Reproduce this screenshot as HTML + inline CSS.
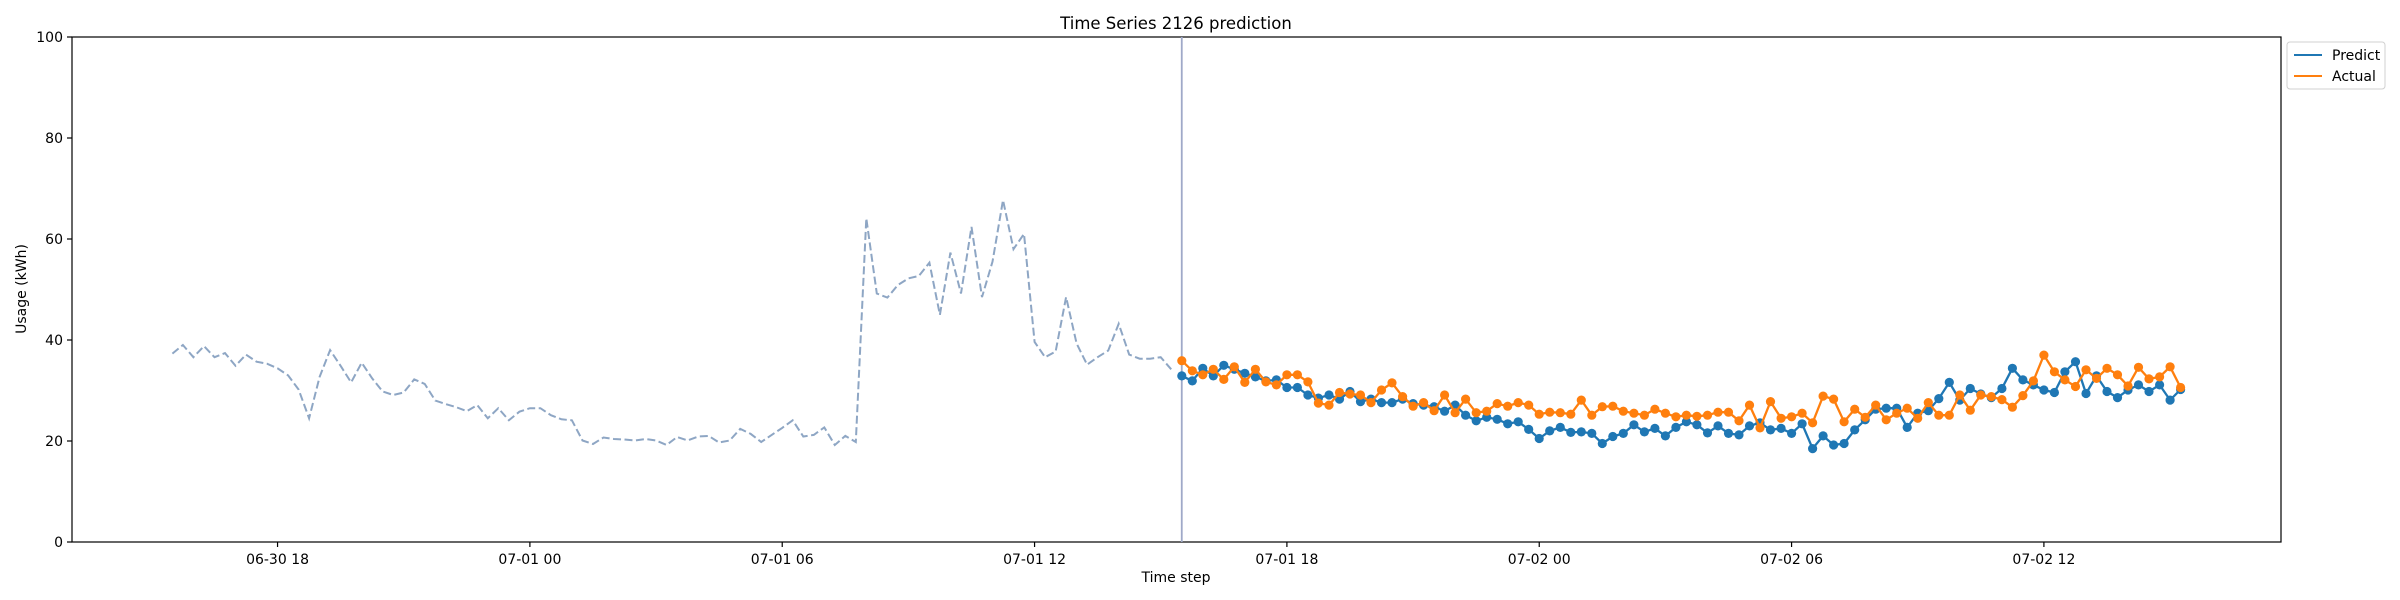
<!DOCTYPE html>
<html><head><meta charset="utf-8"><style>
html,body{margin:0;padding:0;background:#fff;}
svg{display:block;font-family:"DejaVu Sans","Liberation Sans",sans-serif;}
</style></head><body>
<svg id="chart" width="2400" height="600" viewBox="0 0 2400 600" xmlns="http://www.w3.org/2000/svg">
<rect x="0" y="0" width="2400" height="600" fill="#fff"/>
<text x="1176" y="29" font-size="16.5" text-anchor="middle">Time Series 2126 prediction</text>
<g id="plot"></g>
<text x="1176" y="582" font-size="14" text-anchor="middle">Time step</text>
<text x="26" y="289" font-size="14" text-anchor="middle" transform="rotate(-90 26 289)">Usage (kWh)</text>
<g>
<rect x="2287" y="42" width="98" height="47" rx="3" fill="#fff" stroke="#d0d0d0" stroke-width="1"/>
<g>
<line x1="2294" y1="55" x2="2322" y2="55" stroke="#1f77b4" stroke-width="2"/>
<text x="2332" y="60" font-size="14">Predict</text>
</g>
<g>
<line x1="2294" y1="76" x2="2322" y2="76" stroke="#ff7f0e" stroke-width="2"/>
<text x="2332" y="81" font-size="14">Actual</text>
</g>
</g>
</svg>
<script>
const history = [37.3,39.0,36.6,38.8,36.6,37.4,34.9,37.1,35.7,35.3,34.4,33.0,30.2,24.5,32.7,38.0,34.9,31.6,35.5,32.4,29.8,29.1,29.6,32.2,31.3,28.0,27.3,26.7,25.9,27.1,24.5,26.5,24.1,25.8,26.5,26.5,25.1,24.3,24.1,20.1,19.4,20.7,20.4,20.3,20.1,20.4,20.1,19.2,20.8,20.1,20.9,21.0,19.7,20.1,22.4,21.4,19.8,21.2,22.6,24.1,20.9,21.2,22.7,19.2,21.0,19.8,64.1,49.2,48.4,50.9,52.2,52.7,55.3,45.0,57.3,49.2,62.4,48.5,55.5,67.7,58.0,61.0,39.6,36.6,37.7,48.5,39.3,35.1,36.6,37.9,43.2,37.1,36.3,36.3,36.6,34.2];
const predict = [32.9,31.9,34.4,32.9,35.0,34.2,33.4,32.7,31.9,32.1,30.6,30.6,29.1,28.5,29.1,28.3,29.8,27.8,28.3,27.6,27.6,28.3,27.4,27.1,26.8,25.9,27.1,25.1,24.0,24.7,24.3,23.4,23.8,22.3,20.5,22.0,22.7,21.7,21.8,21.5,19.5,20.9,21.5,23.2,21.8,22.5,21.0,22.7,23.8,23.2,21.6,23.0,21.5,21.2,23.0,23.6,22.2,22.5,21.5,23.4,18.5,21.0,19.2,19.5,22.2,24.2,26.3,26.5,26.5,22.7,25.5,26.0,28.4,31.6,28.1,30.4,29.3,28.6,30.4,34.4,32.1,31.1,30.1,29.6,33.7,35.7,29.4,32.9,29.8,28.6,30.1,31.1,29.8,31.1,28.1,30.2];
const actual = [35.9,33.9,33.1,34.2,32.2,34.7,31.6,34.2,31.7,31.1,33.1,33.1,31.7,27.5,27.1,29.6,29.3,29.1,27.6,30.1,31.5,28.8,26.9,27.6,26.0,29.1,25.6,28.3,25.6,25.9,27.4,26.9,27.6,27.1,25.3,25.7,25.6,25.3,28.1,25.1,26.8,26.9,25.9,25.5,25.1,26.3,25.5,24.8,25.1,24.9,25.1,25.7,25.7,24.0,27.1,22.6,27.8,24.5,24.8,25.5,23.6,28.9,28.3,23.8,26.3,24.7,27.1,24.2,25.5,26.5,24.5,27.6,25.1,25.1,29.1,26.1,29.1,28.8,28.2,26.7,29.0,31.9,37.0,33.7,32.1,30.8,34.1,32.4,34.4,33.1,30.9,34.6,32.3,32.7,34.7,30.6];
const xTickLabels = ['06-30 18','07-01 00','07-01 06','07-01 12','07-01 18','07-02 00','07-02 06','07-02 12'];
const xTickHours = [0,6,12,18,24,30,36,42];
const yTicks = [0,20,40,60,80,100];
const histStartHour = -2.5;
const predStartHour = 21.5;
const stepHours = 0.25;

const NS='http://www.w3.org/2000/svg';
const L=72,R=2281,T=37,B=542;
const dataMin=histStartHour, dataMax=predStartHour+(predict.length-1)*stepHours;
const pad=(dataMax-dataMin)*0.05;
const xMin=dataMin-pad, xMax=dataMax+pad;
function xs(h){return L+(h-xMin)/(xMax-xMin)*(R-L);}
function ys(v){return B-(v/100)*(B-T);}
const g=document.getElementById('plot');
function el(tag,attrs){const e=document.createElementNS(NS,tag);for(const k in attrs)e.setAttribute(k,attrs[k]);g.appendChild(e);return e;}

// axes frame
const frame=el('rect',{x:L,y:T,width:R-L,height:B-T,fill:'none',stroke:'#000','stroke-width':1.2});



yTicks.forEach(v=>{
  const y=ys(v);
  const t=el('line',{x1:L-5,y1:y,x2:L,y2:y,stroke:'#000','stroke-width':1.2});
  
  
  const lb=el('text',{x:L-9,y:y+5,'font-size':14,'text-anchor':'end'});
  lb.textContent=v;
  
  
});
xTickHours.forEach((h,i)=>{
  const x=xs(h);
  const t=el('line',{x1:x,y1:B,x2:x,y2:B+5,stroke:'#000','stroke-width':1.2});
  
  
  const lb=el('text',{x:x,y:B+22,'font-size':14,'text-anchor':'middle'});
  lb.textContent=xTickLabels[i];
  
  
});

// history
const hp=history.map((v,i)=>xs(histStartHour+i*stepHours).toFixed(1)+','+ys(v).toFixed(1)).join(' ');
const hl=el('polyline',{points:hp,fill:'none',stroke:'#8ea6c4','stroke-width':2,'stroke-dasharray':'8,3.5'});



// vertical split line
const vx=xs(predStartHour);
const vl=el('line',{x1:vx,y1:T,x2:vx,y2:B,stroke:'#9fa9c8','stroke-width':1.8});



function series(arr,color,name){
  const pts=arr.map((v,i)=>[xs(predStartHour+i*stepHours),ys(v)]);
  const pl=el('polyline',{points:pts.map(p=>p[0].toFixed(1)+','+p[1].toFixed(1)).join(' '),fill:'none',stroke:color,'stroke-width':2.3});
  
  
  pts.forEach(p=>{
    const c=el('circle',{cx:p[0].toFixed(1),cy:p[1].toFixed(1),r:4.6,fill:color});
    
    
  });
}
series(predict,'#1f77b4','predict');
series(actual,'#ff7f0e','actual');
</script>
</body></html>
